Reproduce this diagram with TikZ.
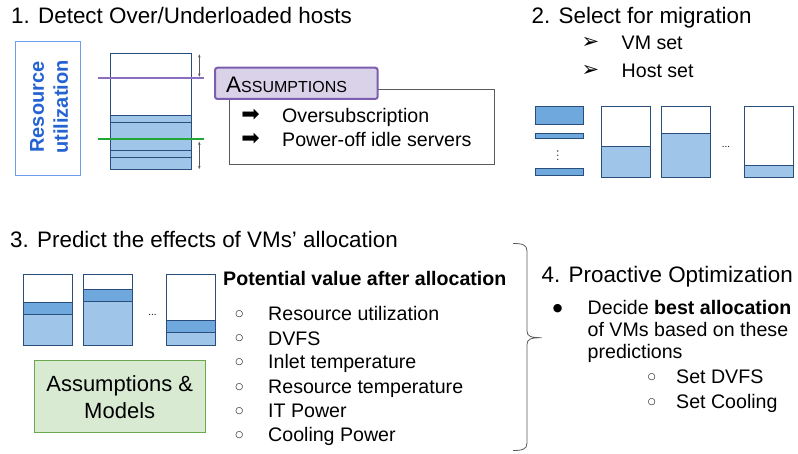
\documentclass[tikz,border=0pt]{standalone}
\usepackage{fontspec}
\setmainfont{Liberation Sans}
\newfontfamily\symf{DejaVu Sans}
\usetikzlibrary{arrows.meta}
\definecolor{barline}{HTML}{2A4E7C}
\definecolor{lightfill}{HTML}{9FC5E8}
\definecolor{darkfill}{HTML}{6FA8DC}
\definecolor{rublue}{HTML}{2563D3}
\definecolor{ruborder}{HTML}{6D9EEB}
\definecolor{purpline}{HTML}{8A6FC0}
\definecolor{purpbox}{HTML}{7C5DB0}
\definecolor{purpfill}{HTML}{D9D2E9}
\definecolor{greenline}{HTML}{22A636}
\definecolor{greenfill}{HTML}{D9EAD3}
\definecolor{greenborder}{HTML}{6AA84F}
\definecolor{grayline}{HTML}{5A5A5A}
\tikzset{
  ttl/.style={anchor=base west, inner sep=0pt, font=\fontsize{22.4}{26}\selectfont},
  txt/.style={anchor=base west, inner sep=0pt, font=\fontsize{19.6}{23}\selectfont},
  circbul/.style={anchor=center, inner sep=0pt, font=\symf\fontsize{9}{11}\selectfont},
  dotbul/.style={anchor=center, inner sep=0pt, font=\symf\fontsize{11}{13}\selectfont},
  arrbul/.style={anchor=center, inner sep=0pt, font=\symf\fontsize{22}{26}\selectfont},
  headbul/.style={anchor=center, inner sep=0pt, font=\symf\fontsize{21}{24}\selectfont},
  barbox/.style={draw=barline, line width=0.9pt},
  lightbox/.style={draw=barline, line width=0.9pt, fill=lightfill},
  darkbox/.style={draw=barline, line width=0.9pt, fill=darkfill},
  dotsy/.style={anchor=center, inner sep=0pt, font=\fontsize{10}{12}\selectfont},
  dbl/.style={{Stealth[length=3.2pt,width=2.6pt]}-{Stealth[length=3.2pt,width=2.6pt]}, grayline, line width=0.5pt},
}
\begin{document}
\begin{tikzpicture}[x=1pt,y=-1pt]
\useasboundingbox (0,0) rectangle (798,454);

% ---------- 1. Detect ----------
\node[ttl] (t1) at (11,23.3) {1. Detect Over/Underloaded hosts};
\draw[ruborder, line width=0.9pt] (15.7,41) rectangle (80,175);
\node[rotate=90, align=center, text=rublue, inner sep=0pt,
      font=\bfseries\fontsize{20}{24}\selectfont] (ru) at (49,107) {Resource\\utilization};

\draw[barbox] (110.7,53.3) rectangle (191.3,169);
\draw[lightbox] (110.7,115.7) rectangle (191.3,169);
\draw[barline, line width=0.9pt] (110.7,122.3) -- (191.3,122.3);
\draw[barline, line width=0.9pt] (110.7,150) -- (191.3,150);
\draw[barline, line width=0.9pt] (110.7,157.3) -- (191.3,157.3);
\draw[purpline, line width=1.4pt] (97.7,78) -- (203.7,78);
\draw[greenline, line width=1.6pt] (97.7,139.3) -- (203.7,139.3);
\coordinate (u1) at (199.3,54.3);
\coordinate (u2) at (199.3,76.7);
\coordinate (l1) at (199.3,141.7);
\coordinate (l2) at (199.3,169);
\draw[dbl] (u1) -- (u2);
\draw[dbl] (l1) -- (l2);

\draw[grayline, line width=0.9pt] (229.7,89) rectangle (494.3,164.7);
\draw[purpbox, fill=purpfill, line width=2pt, rounded corners=2.5pt] (215,67.7) rectangle (377.7,99);
\node[anchor=base west, inner sep=0pt] (as) at (226,92.3)
  {\fontsize{22.5}{26}\selectfont A\fontsize{16}{20}\selectfont SSUMPTIONS};
\node[arrbul] (b1) at (250.7,115.5) {➡};
\node[arrbul] (b2) at (250.7,139.5) {➡};
\node[txt] (o1) at (282,122.7) {Oversubscription};
\node[txt] (o2) at (282,146.7) {Power-off idle servers};

% ---------- 2. Select ----------
\node[ttl] (t2) at (531.5,23.3) {2. Select for migration};
\node[headbul] (h1) at (590.5,42.5) {➢};
\node[headbul] (h2) at (590.5,70.5) {➢};
\node[txt] (vm) at (621.5,49.3) {VM set};
\node[txt] (hs) at (621.5,77.3) {Host set};

\draw[darkbox] (535,106) rectangle (583.7,124);
\draw[darkbox] (535,133.3) rectangle (583.7,138);
\fill[black!70] (557.7,151) circle (0.8) (557.7,155.2) circle (0.8) (557.7,159.4) circle (0.8);
\draw[darkbox] (535,168) rectangle (583.7,175.7);

\draw[barbox] (601.3,106.7) rectangle (650.3,177.3);
\draw[lightbox] (601.3,146.3) rectangle (650.3,177.3);
\draw[barbox] (661.3,106.7) rectangle (710.7,177.3);
\draw[lightbox] (661.3,133.3) rectangle (710.7,177.3);
\node[dotsy] (d2) at (726,147) {...};
\draw[barbox] (744,106.7) rectangle (793.3,177.3);
\draw[lightbox] (744,165) rectangle (793.3,177.3);

% ---------- 3. Predict ----------
\node[ttl] (t3) at (10,247.3) {3. Predict the effects of VMs’ allocation};
\draw[barbox] (23.3,274.3) rectangle (72.3,345);
\draw[lightbox] (23.3,314.7) rectangle (72.3,345);
\draw[darkbox] (23.3,302.3) rectangle (72.3,314.7);
\draw[barbox] (83.3,274.3) rectangle (132.3,345);
\draw[lightbox] (83.3,301) rectangle (132.3,345);
\draw[darkbox] (83.3,289) rectangle (132.3,301);
\node[dotsy] (d3) at (152.5,315) {...};
\draw[barbox] (166.7,274.3) rectangle (215,345);
\draw[lightbox] (166.7,332.3) rectangle (215,345);
\draw[darkbox] (166.7,320) rectangle (215,332.3);

\draw[greenborder, fill=greenfill, line width=0.9pt] (34.3,360) rectangle (205,432.3);
\node[anchor=base, inner sep=0pt, font=\fontsize{22}{26}\selectfont] (am1) at (119.7,391.7) {Assumptions \&};
\node[anchor=base, inner sep=0pt, font=\fontsize{22}{26}\selectfont] (am2) at (119.7,418.3) {Models};

\node[txt, font=\bfseries\fontsize{19.6}{23}\selectfont] (pv) at (223,285.7) {Potential value after allocation};
\foreach \n/\yb/\t in {1/321/Resource utilization, 2/345/DVFS, 3/369/Inlet temperature,
    4/393.3/Resource temperature, 5/417.3/IT Power, 6/441.7/Cooling Power}{
  \node[circbul] (c\n) at (239.3,\yb-6.5) {○};
  \node[txt] (p\n) at (268,\yb) {\t};
}

% ---------- brace ----------
\draw[grayline, line width=0.8pt]
  (513,243.5) .. controls (522,243.5) and (527,244.5) .. (527,251)
  -- (527,331) .. controls (527,336.5) and (531,337.7) .. (541.7,337.7)
  .. controls (531,337.7) and (527,339) .. (527,344.5)
  -- (527,443) .. controls (527,449.5) and (522,450.5) .. (513,450.5);

% ---------- 4. Proactive ----------
\node[ttl] (t4) at (541.5,282.5) {4. Proactive Optimization};
\node[dotbul] (bb) at (557.7,308.5) {●};
\node[txt] (dc1) at (587.5,315) {Decide \textbf{best allocation}};
\node[txt] (dc2) at (587.5,336.7) {of VMs based on these};
\node[txt] (dc3) at (587.5,358.3) {predictions};
\node[circbul] (s1b) at (651.7,376.8) {○};
\node[circbul] (s2b) at (651.7,401.8) {○};
\node[txt] (s1) at (676,383.3) {Set DVFS};
\node[txt] (s2) at (676,408.3) {Set Cooling};
\end{tikzpicture}
\end{document}
